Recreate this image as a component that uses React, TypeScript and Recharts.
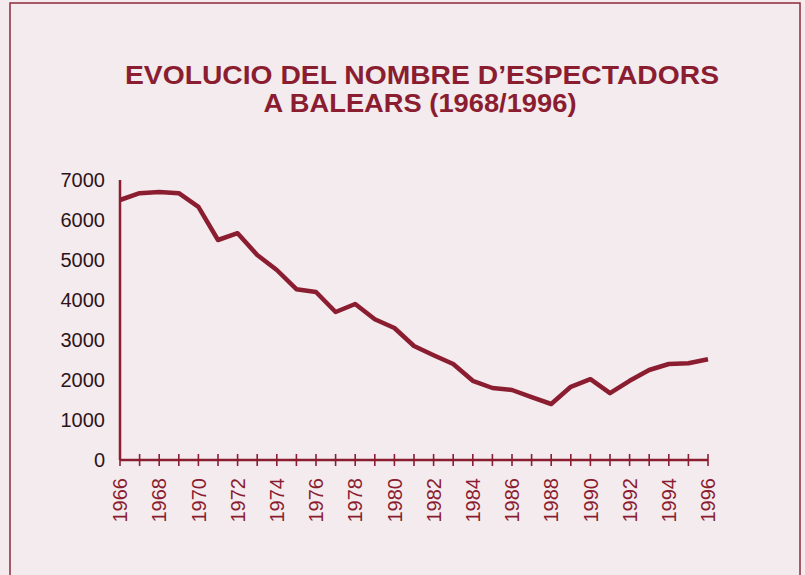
import { LineChart, Line, XAxis, YAxis } from 'recharts'

const years = [
  1966, 1967, 1968, 1969, 1970, 1971, 1972, 1973, 1974, 1975, 1976,
  1977, 1978, 1979, 1980, 1981, 1982, 1983, 1984, 1985, 1986,
  1987, 1988, 1989, 1990, 1991, 1992, 1993, 1994, 1995, 1996
];
const spectators = [
  6500, 6670, 6700, 6670, 6330, 5500, 5670, 5125, 4750, 4270, 4200,
  3700, 3900, 3520, 3300, 2850, 2620, 2400, 1980, 1800, 1750,
  1570, 1400, 1830, 2020, 1670, 1980, 2250, 2400, 2420, 2520
];
const yTicks = [0, 1000, 2000, 3000, 4000, 5000, 6000, 7000];
const titleLines = ['EVOLUCIO DEL NOMBRE D\u2019ESPECTADORS', 'A BALEARS (1968/1996)'];

const data = years.map((year, i) => ({ year, value: spectators[i] }));

const RED = '#8b1d30';
const FONT = '"Liberation Sans", Arial, Helvetica, sans-serif';

function YearTick(props: any) {
  const { x, y, payload } = props;
  const axisY = y - 8;
  const year = payload.value;
  return (
    <g>
      <line x1={x} y1={axisY - 6} x2={x} y2={axisY + 6} stroke={RED} strokeWidth={1.6} />
      {year % 2 === 0 && (
        <text
          x={x}
          y={axisY + 18}
          dy="0.36em"
          transform={`rotate(-90, ${x}, ${axisY + 18})`}
          textAnchor="end"
          fill={RED}
          fontSize={20}
          fontFamily={FONT}
        >
          {year}
        </text>
      )}
    </g>
  );
}

export default function App() {
  return (
    <div style={{ position: 'absolute', left: 0, top: 0, width: 805, height: 575, background: '#f3ebee', overflow: 'hidden' }}>
      <svg width={805} height={575} style={{ position: 'absolute', left: 0, top: 0 }}>
        <rect x={10} y={3} width={790} height={600} fill="none" stroke="#8e2a3c" strokeWidth={1.5} />
        <text x={422} y={84} textAnchor="middle" fill={RED} fontSize={26} fontWeight="bold" fontFamily={FONT}
          textLength={594} lengthAdjust="spacingAndGlyphs">
          {titleLines[0]}
        </text>
        <text x={420} y={112} textAnchor="middle" fill={RED} fontSize={26} fontWeight="bold" fontFamily={FONT}
          textLength={313} lengthAdjust="spacingAndGlyphs">
          {titleLines[1]}
        </text>
      </svg>
      <div style={{ position: 'absolute', left: 0, top: 0 }}>
        <LineChart width={805} height={575} data={data} margin={{ top: 180, right: 97, left: 60, bottom: 55 }}>
          <XAxis
            dataKey="year"
            type="number"
            domain={[1966, 1996]}
            ticks={years}
            interval={0}
            height={60}
            axisLine={{ stroke: RED, strokeWidth: 2.5 }}
            tickLine={false}
            tickSize={6}
            tickMargin={2}
            tick={<YearTick />}
          />
          <YAxis
            domain={[0, 7000]}
            ticks={yTicks}
            interval={0}
            width={60}
            axisLine={{ stroke: RED, strokeWidth: 2.5 }}
            tickLine={false}
            tickMargin={9}
            tick={{ fill: '#2e1419', fontSize: 20, fontFamily: FONT }}
          />
          <Line
            type="linear"
            dataKey="value"
            stroke={RED}
            strokeWidth={4.5}
            strokeLinejoin="round"
            dot={false}
            isAnimationActive={false}
          />
        </LineChart>
      </div>
    </div>
  );
}
